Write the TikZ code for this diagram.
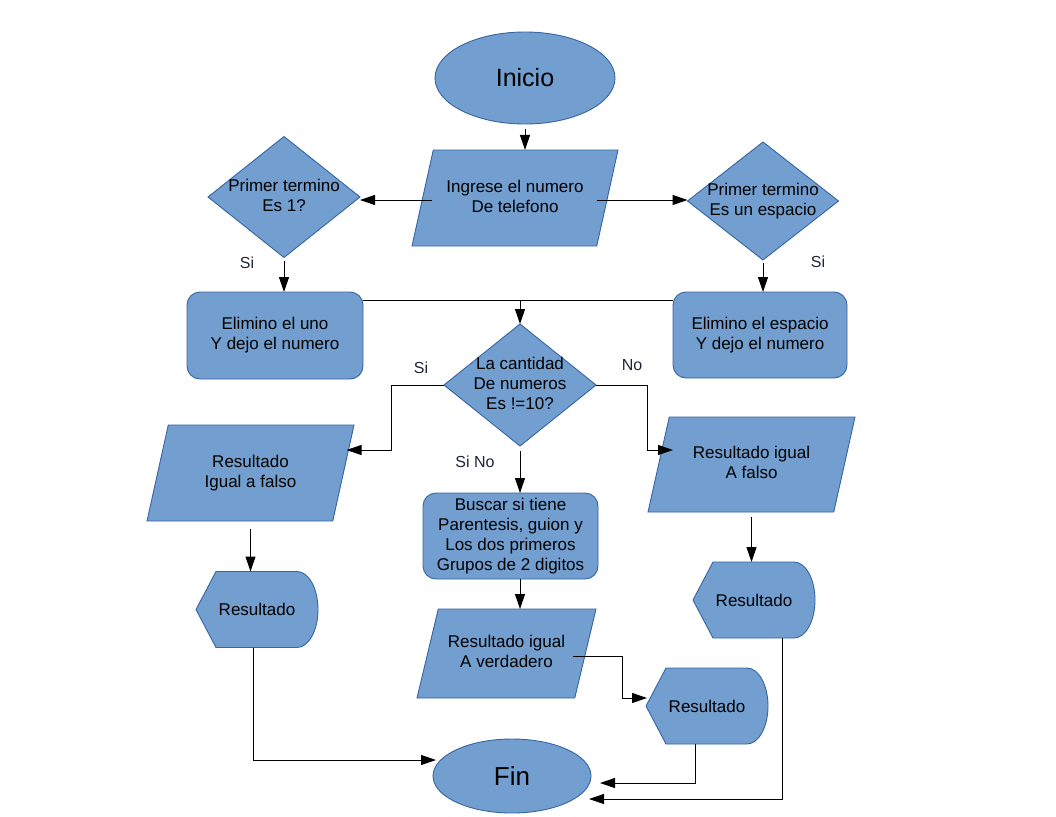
\documentclass[tikz,border=0pt]{standalone}
\usepackage{fontspec}
\setmainfont{Liberation Sans}
\usetikzlibrary{shapes.geometric,arrows.meta}
\definecolor{fillc}{HTML}{729FCF}
\definecolor{linec}{HTML}{3465A4}
\definecolor{lblc}{HTML}{1E2636}
\newcommand{\ztext}[1]{\makebox[0pt]{\begin{tabular}{@{}c@{}}#1\end{tabular}}}
\begin{document}
\begin{tikzpicture}[x=1pt,y=-1pt,
  every node/.style={inner sep=0pt, outer sep=0pt, font=\fontsize{17}{20}\selectfont},
  shapefill/.style={fill=fillc, draw=linec, line width=0.9pt},
  term/.style={shapefill, ellipse},
  decis/.style={shapefill, diamond, minimum width=152pt, minimum height=121pt},
  proc/.style={shapefill, rectangle, rounded corners=13pt},
  iobox/.style={shapefill, trapezium, trapezium left angle=62, trapezium right angle=118, trapezium stretches body=true},
  disp/.style={rectangle, minimum width=122pt, minimum height=76pt},
  dispshape/.style={shapefill},
  lbl/.style={text=lblc, font=\fontsize{16}{19}\selectfont},
  arr/.style={-{Triangle[length=15pt,width=10pt]}, line width=1pt},
  conn/.style={line width=1pt}
]
\useasboundingbox (0,0) rectangle (1056,816);
\fill[white] (0,0) rectangle (1056,816);

% display shapes (drawn first, text nodes on top)
\begin{scope}[shift={(257,609.5)}]
  \filldraw[dispshape] (-61,0) -- (-41,-38) -- (40,-38) arc[start angle=90,end angle=-90,x radius=21pt,y radius=38pt] -- (-41,38) -- cycle;
\end{scope}
\begin{scope}[shift={(707,706)}]
  \filldraw[dispshape] (-61,0) -- (-41,-38) -- (40,-38) arc[start angle=90,end angle=-90,x radius=21pt,y radius=38pt] -- (-41,38) -- cycle;
\end{scope}
\begin{scope}[shift={(754,600)}]
  \filldraw[dispshape] (-61,0) -- (-41,-38) -- (40,-38) arc[start angle=90,end angle=-90,x radius=21pt,y radius=38pt] -- (-41,38) -- cycle;
\end{scope}

% nodes
\node[term, minimum width=180pt, minimum height=92pt, font=\fontsize{25}{30}\selectfont] (inicio) at (525,78) {Inicio};
\node[iobox, minimum width=206pt, minimum height=96pt] (ing) at (515,198) {\ztext{Ingrese el numero\\De telefono}};
\node[decis] (q1) at (284,197) {\ztext{Primer termino\\Es 1?}};
\node[decis, minimum width=151pt, minimum height=118pt] (q2) at (763,201) {\ztext{Primer termino\\Es un espacio}};
\node[proc, minimum width=176pt, minimum height=87pt] (b1) at (275,335.5) {\ztext{Elimino el uno\\Y dejo el numero}};
\node[proc, minimum width=174pt, minimum height=86pt] (b2) at (760,335) {\ztext{Elimino el espacio\\Y dejo el numero}};
\node[decis, minimum height=122pt] (q3) at (520,385) {\ztext{La cantidad\\De numeros\\Es !=10?}};
\node[proc, minimum width=175pt, minimum height=86pt] (bus) at (510.5,536) {\ztext{Buscar si tiene\\Parentesis, guion y\\Los dos primeros\\Grupos de 2 digitos}};
\node[iobox, minimum width=207pt, minimum height=96pt] (p1) at (250.5,473) {\ztext{Resultado\\Igual a falso}};
\node[iobox, minimum width=207pt, minimum height=95pt] (p2) at (751.5,464.5) {\ztext{Resultado igual\\A falso}};
\node[iobox, minimum width=179pt, minimum height=89pt] (p3) at (506.5,653.5) {\ztext{Resultado igual\\A verdadero}};
\node[disp] (r1) at (257,609.5) {Resultado};
\node[disp] (r2) at (707,706) {Resultado};
\node[disp] (r3) at (754,600) {Resultado};
\node[term, minimum width=158pt, minimum height=74pt, font=\fontsize{26}{31}\selectfont] (fin) at (512,776) {Fin};

% labels
\node[lbl] (s1) at (247,263) {Si};
\node[lbl] (s2) at (818,262) {Si};
\node[lbl] (s3) at (421,368) {Si};
\node[lbl] (n1) at (632,365) {No};
\node[lbl] (sn) at (475,462) {Si No};

% connector end points on the slanted sides
\coordinate (ingL) at ([xshift=-83pt,yshift=-2pt]ing.center);
\coordinate (ingR) at ([xshift=82pt,yshift=-2pt]ing.center);
\coordinate (p3R) at ([xshift=66.5pt,yshift=-2.5pt]p3.center);

% connectors
\draw[arr] ([yshift=-5pt]inicio.south) -- (inicio.south |- ing.north);
\draw[arr] (ingL) -- (ingL -| q1.east);
\draw[arr] (ingR) -- (ingR -| q2.west);
\draw[arr] ([yshift=-3pt]q1.south) -- (q1.south |- b1.north);
\draw[arr] ([yshift=-3pt]q2.south) -- (q2.south |- b2.north);
\coordinate (jn) at ([yshift=-8pt]b1.north east);
\coordinate (jm) at ([yshift=-8pt]b2.north west);
\draw[conn] (jn) -- (jm);
\draw[arr] (jn -| q3.north) -- (q3.north);
\draw[arr] (q3.west) -- ++(-53,0) |- ([xshift=96pt,yshift=23pt]p1.center);
\draw[arr] (q3.east) -- ++(51,0) |- ([xshift=-78.5pt,yshift=14.5pt]p2.center);
\draw[arr] ([yshift=-5pt]q3.south) -- (q3.south |- bus.north);
\draw[arr] (q3.south |- bus.south) -- (q3.south |- p3.north);
\draw[arr] (p3R) -- ++(49,0) |- ([xshift=1pt,yshift=8pt]r2.west);
\draw[arr] ([yshift=-8pt]p1.south) -- (p1.south |- r1.north);
\draw[arr] ([yshift=-5pt]p2.south) -- (p2.south |- r3.north);
\draw[arr] ([xshift=-4pt]r1.south) |- ([xshift=3pt,yshift=16pt]fin.west);
\draw[arr] ([xshift=-12pt]r2.south) |- ([xshift=9pt,yshift=-7pt]fin.east);
\draw[arr] ([xshift=28pt]r3.south) |- ([xshift=-2pt,yshift=-23pt]fin.east);
\end{tikzpicture}
\end{document}
